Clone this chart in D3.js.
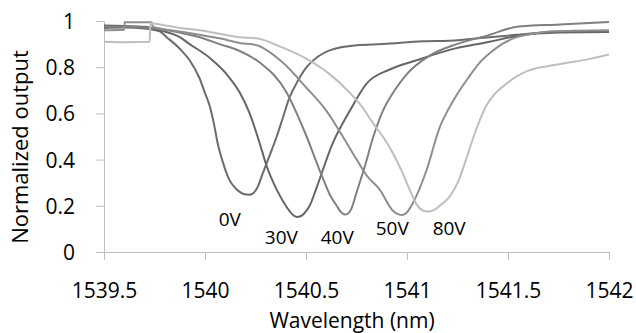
<!DOCTYPE html>
<html>
<head>
<meta charset="utf-8">
<script src="https://cdn.jsdelivr.net/npm/d3@7"></script>
<style>
  body { margin: 0; background: #fff; }
  text { font-family: "Open Sans", sans-serif; fill: #000; }
  .axis path, .axis line { stroke: #bfbfbf; stroke-width: 1; }
</style>
</head>
<body>
<div id="chart"></div>
<script>
// series: [wavelength nm, normalized output]
var series0V = [[1539.5,0.97],[1539.6,0.972],[1539.7,0.968],[1539.776,0.955],[1539.81,0.93],[1539.875,0.88],[1539.924,0.83],[1539.974,0.75],[1539.999,0.69],[1540.024,0.63],[1540.043,0.56],[1540.063,0.47],[1540.088,0.39],[1540.107,0.34],[1540.122,0.31],[1540.147,0.28],[1540.172,0.26],[1540.195,0.25],[1540.221,0.248],[1540.24,0.255],[1540.26,0.28],[1540.286,0.34],[1540.321,0.42],[1540.355,0.5],[1540.385,0.58],[1540.419,0.67],[1540.459,0.74],[1540.503,0.8],[1540.558,0.845],[1540.617,0.873],[1540.751,0.895],[1540.88,0.9],[1541.077,0.912],[1541.211,0.915],[1541.409,0.93],[1541.543,0.94],[1541.756,0.955],[1542,0.955]];
var series30V = [[1539.5,0.98],[1539.6,0.978],[1539.7,0.975],[1539.776,0.96],[1539.875,0.93],[1539.924,0.9],[1540.024,0.84],[1540.107,0.77],[1540.172,0.69],[1540.221,0.6],[1540.271,0.47],[1540.306,0.37],[1540.355,0.27],[1540.404,0.195],[1540.43,0.165],[1540.454,0.152],[1540.475,0.156],[1540.494,0.17],[1540.518,0.2],[1540.553,0.28],[1540.632,0.47],[1540.716,0.61],[1540.801,0.73],[1540.915,0.79],[1541.048,0.83],[1541.211,0.875],[1541.409,0.91],[1541.543,0.935],[1541.756,0.95],[1542,0.952]];
var series40V = [[1539.5,0.975],[1539.6,0.975],[1539.7,0.972],[1539.776,0.965],[1539.875,0.95],[1539.974,0.93],[1540.072,0.9],[1540.172,0.87],[1540.271,0.82],[1540.404,0.69],[1540.454,0.6],[1540.503,0.5],[1540.543,0.41],[1540.583,0.32],[1540.617,0.25],[1540.652,0.2],[1540.672,0.174],[1540.692,0.162],[1540.71,0.168],[1540.726,0.19],[1540.751,0.26],[1540.791,0.37],[1540.83,0.49],[1540.88,0.61],[1540.939,0.7],[1540.999,0.77],[1541.112,0.85],[1541.246,0.9],[1541.409,0.94],[1541.543,0.975],[1541.756,0.985],[1542,0.996]];
var series50V = [[1539.5,0.96],[1539.6,0.962],[1539.602,0.995],[1539.736,0.995],[1539.741,0.975],[1539.875,0.955],[1539.974,0.94],[1540.072,0.925],[1540.172,0.905],[1540.256,0.895],[1540.385,0.82],[1540.503,0.71],[1540.602,0.61],[1540.682,0.5],[1540.751,0.4],[1540.801,0.33],[1540.865,0.27],[1540.929,0.18],[1540.955,0.164],[1540.979,0.16],[1541.0,0.172],[1541.028,0.21],[1541.097,0.355],[1541.162,0.54],[1541.2,0.61],[1541.246,0.68],[1541.3,0.75],[1541.36,0.82],[1541.409,0.86],[1541.47,0.9],[1541.543,0.93],[1541.62,0.945],[1541.706,0.955],[1542,0.96]];
var series80V = [[1539.5,0.91],[1539.6,0.908],[1539.726,0.91],[1539.73,0.99],[1539.776,0.985],[1539.875,0.97],[1539.974,0.96],[1540.072,0.945],[1540.172,0.93],[1540.256,0.925],[1540.37,0.89],[1540.494,0.84],[1540.617,0.77],[1540.716,0.69],[1540.776,0.63],[1540.83,0.56],[1540.88,0.5],[1540.929,0.43],[1540.974,0.35],[1541.013,0.27],[1541.048,0.205],[1541.077,0.18],[1541.1,0.175],[1541.13,0.18],[1541.162,0.2],[1541.211,0.24],[1541.251,0.3],[1541.296,0.41],[1541.33,0.5],[1541.36,0.57],[1541.39,0.63],[1541.43,0.68],[1541.48,0.72],[1541.543,0.76],[1541.6,0.785],[1541.7,0.805],[1541.8,0.82],[1541.9,0.835],[1542,0.855]];

var seriesNames = ["0V", "30V", "40V", "50V", "80V"];
var seriesColors = ["#6c6c6c", "#666666", "#808080", "#8e8e8e", "#bebebe"];
// label anchors in data units: [wavelength, value]
var labelPos = [[1540.068,0.113],[1540.296,0.035],[1540.573,0.035],[1540.845,0.074],[1541.127,0.074]];

var xTicks = [1539.5, 1540, 1540.5, 1541, 1541.5, 1542];
var yTicks = [0, 0.2, 0.4, 0.6, 0.8, 1];

var allSeries = [series0V, series30V, series40V, series50V, series80V];

var margin = {top: 21, right: 27, bottom: 81, left: 104};
var width = 636 - margin.left - margin.right;
var height = 333 - margin.top - margin.bottom;

var x = d3.scaleLinear().domain([1539.5, 1542]).range([0, width]);
var y = d3.scaleLinear().domain([0, 1]).range([height, 0]);

var svg = d3.select("#chart")
    .append("svg")
    .attr("width", width + margin.left + margin.right)
    .attr("height", height + margin.top + margin.bottom)
    .append("g")
    .attr("transform", "translate(" + margin.left + "," + margin.top + ")");

var xAxis = d3.axisBottom(x)
    .tickValues(xTicks)
    .tickFormat(function(d) { return d; })
    .tickSize(8).tickSizeOuter(0).tickPadding(23);

var yAxis = d3.axisLeft(y)
    .tickValues(yTicks)
    .tickFormat(function(d) { return d; })
    .tickSize(8).tickSizeOuter(0).tickPadding(21);

var gx = svg.append("g")
    .attr("class", "x axis")
    .attr("transform", "translate(0," + height + ")")
    .call(xAxis);
gx.selectAll("text").style("font-size", "21px").attr("fill", "#000");

var gy = svg.append("g")
    .attr("class", "y axis")
    .call(yAxis);
gy.selectAll("text").style("font-size", "21px").attr("fill", "#000").attr("dy", "0.36em");

var line = d3.line()
    .x(function(d) { return x(d[0]); })
    .y(function(d) { return y(d[1]); })
    .curve(d3.curveMonotoneX);

svg.selectAll(".series")
    .data(allSeries)
    .enter()
    .append("path")
    .attr("class", "series")
    .attr("fill", "none")
    .attr("stroke", function(d, i) { return seriesColors[i]; })
    .attr("stroke-width", 2)
    .attr("stroke-linejoin", "round")
    .attr("d", line);

svg.selectAll(".vlabel")
    .data(seriesNames)
    .enter()
    .append("text")
    .attr("class", "vlabel")
    .attr("x", function(d, i) { return x(labelPos[i][0]); })
    .attr("y", function(d, i) { return y(labelPos[i][1]); })
    .style("font-size", "19px")
    .text(function(d) { return d; });

svg.append("text")
    .attr("x", width / 2 - 4.5)
    .attr("y", height + 76)
    .attr("text-anchor", "middle")
    .style("font-size", "21px")
    .text("Wavelength (nm)");

svg.append("text")
    .attr("transform", "rotate(-90)")
    .attr("x", -126)
    .attr("y", 28 - margin.left)
    .attr("text-anchor", "middle")
    .style("font-size", "22px")
    .text("Normalized output");
</script>
</body>
</html>
